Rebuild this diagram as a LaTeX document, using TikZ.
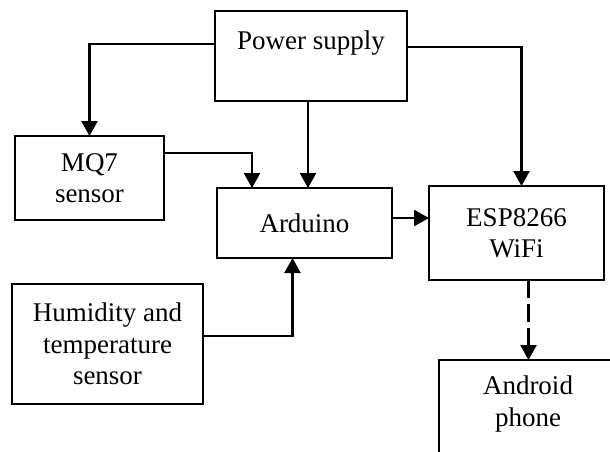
\documentclass[tikz,border=0pt]{standalone}
\usepackage{fontspec}
\setmainfont{Liberation Serif}
\usetikzlibrary{arrows.meta,calc}
\begin{document}
\begin{tikzpicture}[x=1pt,y=-1pt,
  box/.style={draw,line width=1.5pt,inner sep=0pt,outer sep=0pt,align=center,
    font=\fontsize{27}{31.5}\selectfont},
  lbl/.style={inner sep=0pt,align=center,font=\fontsize{27}{31.5}\selectfont},
  conn/.style={line width=2.4pt,-{Triangle[length=15pt,width=16pt]}}]
\clip (0,0) rectangle (610,452);
\useasboundingbox (0,0) rectangle (610,452);

\node[box,minimum width=192pt,minimum height=90pt] (pw) at (311,56) {Power supply\\ \mbox{}};
\node[box,minimum width=149pt,minimum height=84pt] (mq) at (89.5,178) {MQ7\\sensor};
\node[box,minimum width=175pt,minimum height=70pt] (ar) at (304.5,223) {Arduino};
\node[box,minimum width=175pt,minimum height=94pt] (esp) at (516.5,233) {ESP8266\\WiFi};
\node[box,minimum width=191pt,minimum height=120pt] (hu) at (107.5,344) {Humidity and\\temperature\\sensor};
\node[box,minimum width=201pt,minimum height=120pt] (an) at (539.5,420) {};
\node[lbl] (antext) at (528,404) {Android\\phone};

\draw[conn] ([yshift=12pt]pw.west) -| (mq.north);
\draw[conn] ([yshift=9pt]pw.east) -| ([xshift=5pt]esp.north);
\draw[conn] ([xshift=-3pt]pw.south) -- ([xshift=-3pt]pw.south |- ar.north);
\draw[conn] ([yshift=25pt]mq.east) -| ([xshift=35pt]ar.north west);
\draw[conn] ([yshift=5pt]ar.east) -- ([yshift=5pt]ar.east -| esp.west);
\draw[conn] ([yshift=8pt]hu.east) -| ([xshift=-12pt]ar.south);
\draw[conn,dash pattern=on 18pt off 6pt] ([xshift=12pt]esp.south) -- ([xshift=12pt]esp.south |- an.north);
\end{tikzpicture}
\end{document}
